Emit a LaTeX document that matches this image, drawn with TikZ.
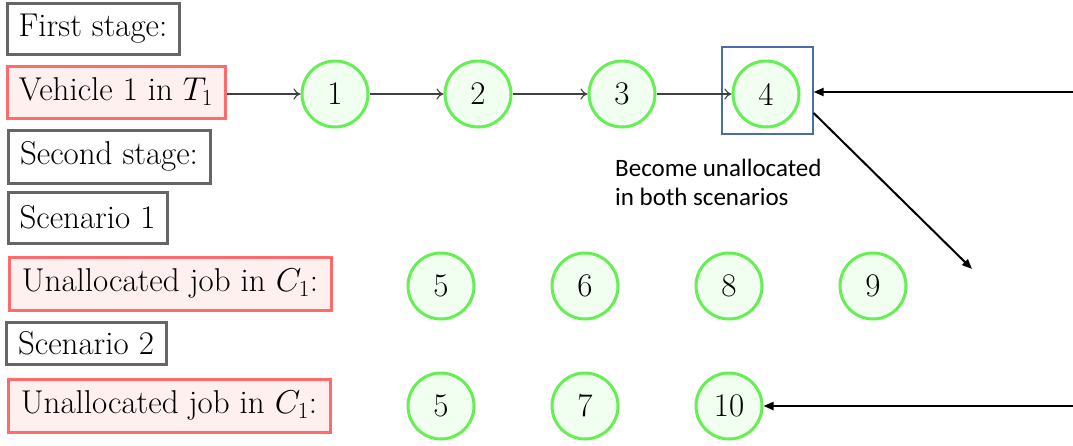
\RequirePackage{fix-cm}
\documentclass[tikz,border=0pt]{standalone}
\usepackage{fontspec}
\newfontfamily\notefont{Carlito}
\usetikzlibrary{arrows.meta}
\definecolor{framegray}{HTML}{666666}
\definecolor{jobred}{HTML}{FF6B6B}
\definecolor{jobpink}{HTML}{FFF0F0}
\definecolor{nodegreen}{HTML}{66EE55}
\definecolor{nodefill}{HTML}{F0FFF0}
\definecolor{markblue}{HTML}{4A6DAA}
\begin{document}
\begin{tikzpicture}[x=1pt,y=-1pt,
  every node/.style={font=\fontsize{33}{38}\selectfont},
  labelbox/.style={draw=framegray,line width=3pt,fill=white,inner sep=0pt},
  jobbox/.style={draw=jobred,line width=3pt,fill=jobpink,inner sep=0pt},
  job/.style={circle,draw=nodegreen,fill=nodefill,line width=3pt,minimum size=66pt,inner sep=0pt},
  chain/.style={draw=black!75,line width=1.1pt,-{To[length=7pt,width=11pt]}},
  bold/.style={draw=black,line width=2pt,-{Triangle[length=10pt,width=8pt]}}]
\useasboundingbox (0,0) rectangle (1073,445);

% left column of labels
\node[labelbox,minimum width=172pt,minimum height=51pt] (first) at (93,28.5) {First stage:};
\node[jobbox,minimum width=218pt,minimum height=52pt] (veh) at (116,92) {Vehicle 1 in $T_1$};
\node[labelbox,minimum width=202pt,minimum height=53pt] (second) at (109,156.5) {Second stage:};
\node[labelbox,minimum width=159pt,minimum height=51pt] (sc1) at (87.5,217.5) {Scenario 1};
\node[jobbox,minimum width=322pt,minimum height=53pt] (un1) at (170,283.5) {Unallocated job in $C_1$:};
\node[labelbox,minimum width=160pt,minimum height=42pt] (sc2) at (86,343) {Scenario 2};
\node[jobbox,minimum width=322pt,minimum height=53pt] (un2) at (169,405.5) {Unallocated job in $C_1$:};

% first-stage route
\node[job] (j1) at (335,94) {1};
\node[job] (j2) at (478,94) {2};
\node[job] (j3) at (622,94) {3};
\node[job] (j4) at (766,94) {4};
\node[draw=markblue,line width=1.2pt,minimum width=91pt,minimum height=87pt,inner sep=0pt] (mark) at (767.5,90.5) {};

\draw[chain] (veh.east |- j1) -- (j1);
\draw[chain] (j1) -- (j2);
\draw[chain] (j2) -- (j3);
\draw[chain] (j3) -- (j4);

\node[font=\notefont\fontsize{25}{29}\selectfont,align=left,anchor=west,inner sep=0pt] (note) at (615,182.5) {Become unallocated\\in both scenarios};

% scenario 1 jobs
\node[job] (a5) at (441,286) {5};
\node[job] (a6) at (585,286) {6};
\node[job] (a8) at (729,286) {8};
\node[job] (a9) at (873,286) {9};

% scenario 2 jobs
\node[job] (b5) at (441,406) {5};
\node[job] (b7) at (585,406) {7};
\node[job] (b10) at (729,406) {10};

% outside arrows
\coordinate (inA) at (1073,92);
\coordinate (outB) at (972,269);
\coordinate (inC) at (1073,406);
\draw[bold] (inA) -- (mark.east |- inA);
\draw[bold] (mark.east |- 0,113) -- (outB);
\draw[bold] (inC) -- (b10);
\end{tikzpicture}
\end{document}
